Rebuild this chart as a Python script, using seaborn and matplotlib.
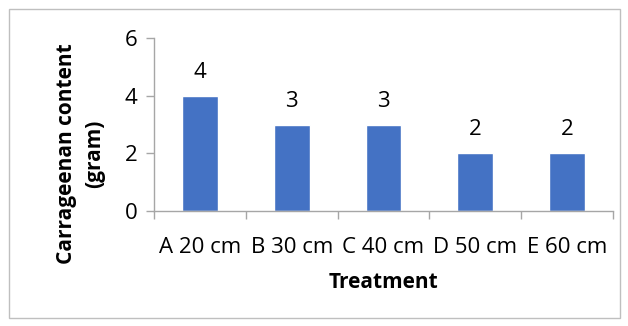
import seaborn as sns
import matplotlib.pyplot as plt
from matplotlib.patches import Rectangle

treatments = ['A 20 cm', 'B 30 cm', 'C 40 cm', 'D 50 cm', 'E 60 cm']
carrageenan = [4, 3, 3, 2, 2]

sns.set_style('white')
plt.rcParams['font.family'] = ['Open Sans', 'DejaVu Sans']
plt.rcParams['text.color'] = 'black'
plt.rcParams['axes.labelcolor'] = 'black'
plt.rcParams['xtick.color'] = 'black'
plt.rcParams['ytick.color'] = 'black'

fig = plt.figure(figsize=(6.28, 3.26), dpi=100)
ax = fig.add_axes([154 / 628, 1 - 211 / 326, (613 - 154) / 628, (211 - 38) / 326])

sns.barplot(x=treatments, y=carrageenan, color='#4472C4', width=0.39, saturation=1, ax=ax)

for i, v in enumerate(carrageenan):
    ax.text(i, v + 0.45, str(v), ha='center', va='bottom', fontsize=16)

ax.set_ylim(0, 6)
ax.set_yticks([0, 2, 4, 6])
ax.set_xlim(-0.5, 4.5)
ax.set_xticks([-0.5, 0.5, 1.5, 2.5, 3.5, 4.5], minor=False)
ax.set_xticklabels([])
ax.set_xticks(range(5), minor=True)
ax.set_xticklabels(treatments, minor=True)
ax.tick_params(axis='x', which='major', bottom=True, length=6, width=1, color='#A6A6A6', direction='out')
ax.tick_params(axis='x', which='minor', bottom=True, length=0, labelsize=16, pad=19)
ax.tick_params(axis='y', left=True, length=6, width=1, color='#A6A6A6', direction='out', labelsize=16, pad=6)

for s in ['top', 'right']:
    ax.spines[s].set_visible(False)
for s in ['left', 'bottom']:
    ax.spines[s].set_color('#A6A6A6')
    ax.spines[s].set_linewidth(1)

ax.set_xlabel('Treatment', fontsize=15, fontweight='bold', labelpad=10)
ax.set_ylabel('Carrageenan content\n(gram)', fontsize=15, fontweight='bold', labelpad=14, linespacing=1.45)
ax.yaxis.label.set_y(0.33)

fig.patches.append(Rectangle((9 / 628, 1 - 318 / 326), 611 / 628, 309 / 326,
                             transform=fig.transFigure, fill=False, edgecolor='#BFBFBF', linewidth=1))

plt.savefig('out.png', dpi=100)
